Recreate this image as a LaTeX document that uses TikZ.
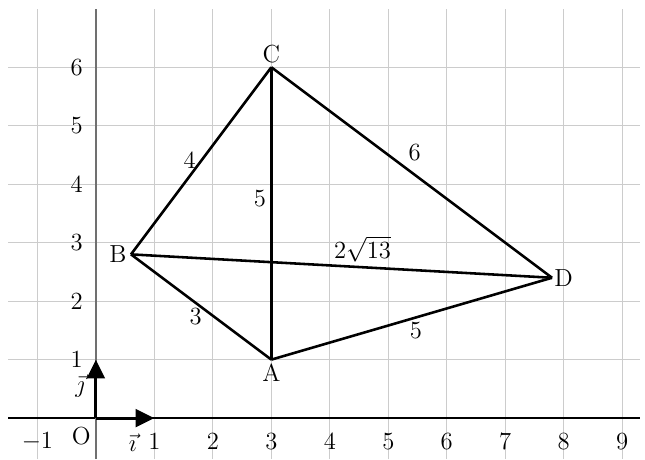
\documentclass[tikz,border=0pt]{standalone}
\usetikzlibrary{arrows.meta, calc}
\definecolor{gridline}{HTML}{CCCCCC}
\definecolor{axisline}{HTML}{707070}
\tikzset{
  grid/.style={draw=gridline, line width=0.5pt},
  yaxis/.style={draw=axisline, line width=0.7pt},
  xaxis/.style={draw=black, line width=0.6pt},
  side/.style={line width=1.25pt, line join=round},
  vec/.style={-{Triangle[length=3.2mm, width=3mm]}, line width=1.5pt},
  ticklbl/.style={inner sep=1pt, font=\large},
  elbl/.style={inner sep=2pt, font=\large},
}

\begin{document}
\begin{tikzpicture}
\useasboundingbox (-1.64,-0.70) rectangle (9.39,7.15);

% Grid
\foreach \x in {-1,...,9}
  {\draw[grid] (\x,-0.7) -- (\x,7);}
\foreach \y in {1,...,6}
  {\draw[grid] (-1.5,\y) -- (9.3,\y);}

% Axes
\draw[xaxis] (-1.5,0) -- (9.3,0);
\draw[yaxis] (0,-0.7) -- (0,7);

% Tick labels
\foreach \x in {-1,1,2,...,9}
  {\node[ticklbl] (tx\x) at (\x,-0.4) {$\x$};}
\foreach \y in {1,...,6}
  {\node[ticklbl] (ty\y) at (-0.33,\y) {$\y$};}
\node[ticklbl] (orig) at (-0.25,-0.3) {O};

% Unit vectors
\coordinate (O) at (0,0);
\coordinate (ui) at (1,0);
\coordinate (uj) at (0,1);
\draw[vec] (O) -- (ui);
\draw[vec] (O) -- (uj);
\node[ticklbl] (lbli) at (0.63,-0.42) {$\vec{\imath}$};
\node[ticklbl] (lblj) at (-0.27,0.55) {$\vec{\jmath}$};

% Points
\coordinate[label={[inner sep=2pt, font=\large]below:A}] (A) at (3,1);
\coordinate[label={[inner sep=2pt, font=\large]left:B}]  (B) at (0.6,2.8);
\coordinate[label={[inner sep=2pt, font=\large]above:C}] (C) at (3,6);
\coordinate[label={[inner sep=1pt, font=\large]right:D}] (D) at (7.8,2.4);

% Sides
\draw[side] (B) -- node[elbl, left, pos=0.5] {$4$} (C);
\draw[side] (C) -- node[elbl, above right, pos=0.47] {$6$} (D);
\draw[side] (A) -- node[elbl, left, pos=0.55] {$5$} (C);
\draw[side] (B) -- node[elbl, above, pos=0.55] {$2\sqrt{13}$} (D);
\draw[side] (B) -- node[elbl, below, pos=0.46] {$3$} (A);
\draw[side] (A) -- node[elbl, below, pos=0.515] {$5$} (D);

\end{tikzpicture}
\end{document}
